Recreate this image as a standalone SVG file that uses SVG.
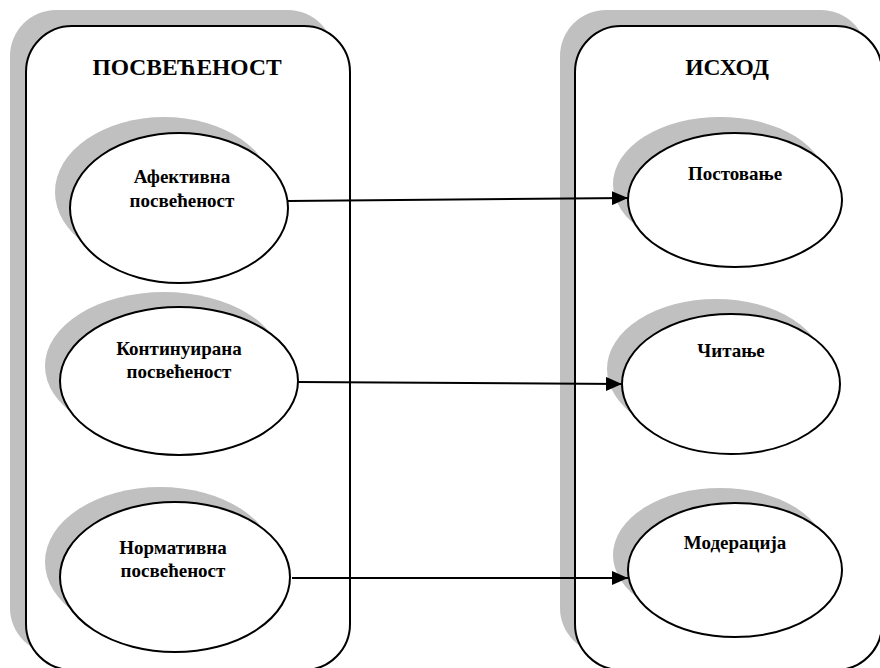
<svg xmlns="http://www.w3.org/2000/svg" width="880" height="668" viewBox="0 0 880 668">
  <style>
    .shadow { fill: #c0c0c0; stroke: none; }
    .box { fill: #ffffff; stroke: #000000; stroke-width: 2; }
    .oval { fill: #ffffff; stroke: #000000; stroke-width: 2; }
    .title { font-family: "Liberation Serif", "Times New Roman", serif; font-weight: bold; font-size: 23.5px; text-anchor: middle; fill: #000; }
    .label { font-family: "Liberation Serif", "Times New Roman", serif; font-weight: bold; font-size: 19px; text-anchor: middle; fill: #000; }
    .link { fill: none; stroke: #000000; stroke-width: 2; marker-end: url(#arrow); }
  </style>
  <defs>
    <marker id="arrow" markerUnits="userSpaceOnUse" markerWidth="16" markerHeight="14" refX="16" refY="7" orient="auto">
      <path d="M0,0 L16,7 L0,14 Z" fill="#000000"/>
    </marker>
  </defs>

  <rect width="880" height="668" fill="#ffffff"/>

  <!-- Left container: commitment -->
  <g id="commitment">
    <rect class="shadow" x="10" y="10" width="324" height="644" rx="46" ry="46"/>
    <rect class="box" x="26" y="26" width="324" height="644" rx="46" ry="46"/>
    <text class="title" x="187" y="75">ПОСВЕЋЕНОСТ</text>
  </g>

  <!-- Right container: outcome -->
  <g id="outcome">
    <rect class="shadow" x="560" y="10" width="307" height="644" rx="46" ry="46"/>
    <rect class="box" x="575" y="26" width="307" height="644" rx="46" ry="46"/>
    <text class="title" x="727" y="75">ИСХОД</text>
  </g>

  <g id="affective">
    <ellipse class="shadow" cx="164" cy="192" rx="109" ry="75"/>
    <ellipse class="oval" cx="179" cy="208" rx="109" ry="75"/>
    <text class="label" x="182" y="183">Афективна</text>
    <text class="label" x="182" y="207">посвећеност</text>
  </g>

  <g id="continuance">
    <ellipse class="shadow" cx="164" cy="366" rx="119" ry="74"/>
    <ellipse class="oval" cx="179" cy="381" rx="119" ry="74"/>
    <text class="label" x="179" y="355">Континуирана</text>
    <text class="label" x="179" y="378">посвећеност</text>
  </g>

  <g id="normative">
    <ellipse class="shadow" cx="160" cy="562" rx="115" ry="75"/>
    <ellipse class="oval" cx="175" cy="577" rx="115" ry="75"/>
    <text class="label" x="173" y="554">Нормативна</text>
    <text class="label" x="173" y="577">посвећеност</text>
  </g>

  <g id="posting">
    <ellipse class="shadow" cx="720" cy="184" rx="107" ry="67"/>
    <ellipse class="oval" cx="735" cy="200" rx="107" ry="67"/>
    <text class="label" x="735" y="180">Постовање</text>
  </g>

  <g id="reading">
    <ellipse class="shadow" cx="716" cy="369" rx="109" ry="70"/>
    <ellipse class="oval" cx="731" cy="384" rx="109" ry="70"/>
    <text class="label" x="731" y="357">Читање</text>
  </g>

  <g id="moderation">
    <ellipse class="shadow" cx="720" cy="555" rx="107" ry="67"/>
    <ellipse class="oval" cx="735" cy="570" rx="107" ry="67"/>
    <text class="label" x="735" y="549">Модерација</text>
  </g>

  <g id="connectors">
    <line class="link" x1="288" y1="201" x2="628" y2="198"/>
    <line class="link" x1="298" y1="382" x2="622" y2="384"/>
    <line class="link" x1="292" y1="578" x2="628" y2="578"/>
  </g>
</svg>
